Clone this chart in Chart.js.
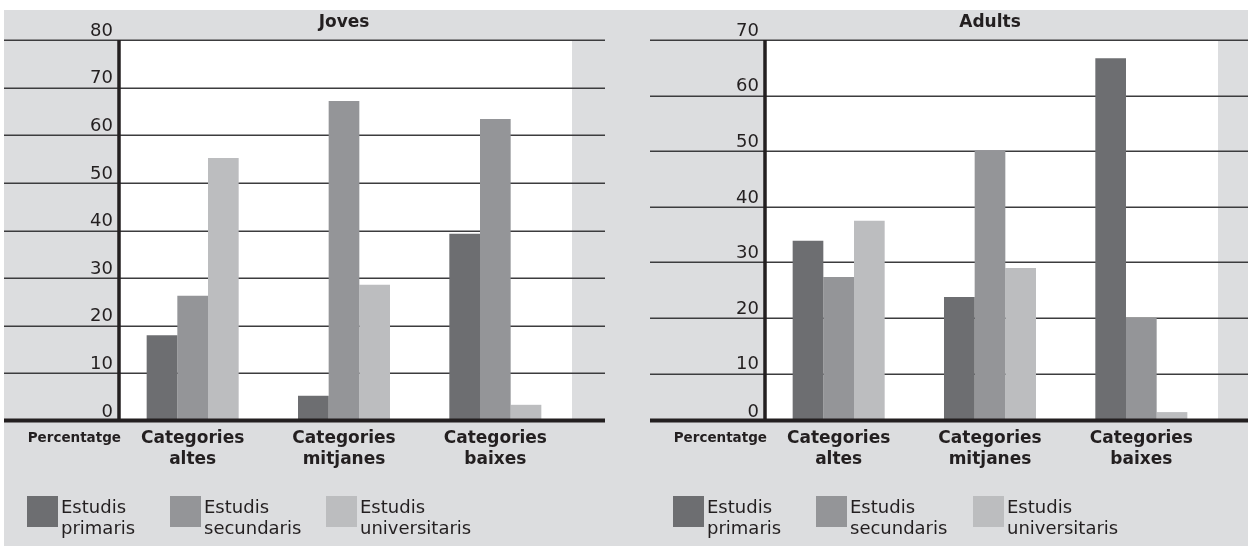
<!DOCTYPE html>
<html>
<head>
<meta charset="utf-8">
<script src="https://cdn.jsdelivr.net/npm/chart.js@4.4.1/dist/chart.umd.min.js"></script>
<style>
  body { margin: 0; background: #fff; width: 1248px; height: 546px; overflow: hidden; position: relative; font-family: "DejaVu Sans", sans-serif; }
  #panel { position: absolute; left: 4px; top: 10px; width: 1244px; height: 536px; background: #dcdddf; }
  canvas { position: absolute; top: 0; }
  .leg { position: absolute; top: 496px; display: flex; align-items: flex-start; color: #231f20; font-size: 18px; line-height: 21px; }
  .leg span.sw { width: 31px; height: 31px; margin-right: 3px; flex: none; }
</style>
</head>
<body>
<div id="panel"></div>
<canvas id="joves" width="620" height="546" style="left:0px"></canvas>
<canvas id="adults" width="628" height="546" style="left:620px"></canvas>
<div id="legends"></div>
<script>
// categories and series
var categories = [["Categories", "altes"], ["Categories", "mitjanes"], ["Categories", "baixes"]];
var seriesNames = [["Estudis", "primaris"], ["Estudis", "secundaris"], ["Estudis", "universitaris"]];
var seriesColors = ['#6d6e71', '#949598', '#bcbdbf'];

// Joves (percentatge)
var jovesPrimaris = [18.0, 5.3, 39.3];
var jovesSecundaris = [26.3, 67.2, 63.4];
var jovesUniversitaris = [55.2, 28.6, 3.4];
var jovesTicks = [0, 10, 20, 30, 40, 50, 60, 70, 80];

// Adults (percentatge)
var adultsPrimaris = [33.9, 23.8, 66.7];
var adultsSecundaris = [27.4, 50.2, 20.0];
var adultsUniversitaris = [37.5, 29.0, 3.1];
var adultsTicks = [0, 10, 20, 30, 40, 50, 60, 70];

var ink = '#231f20';

// white plot area, extended grid lines, thick axes, title and "Percentatge"
var framePlugin = {
    id: 'frame',
    beforeDatasetsDraw: function (chart, args, opts) {
        var ctx = chart.ctx, a = chart.chartArea, y = chart.scales.y;
        ctx.save();
        ctx.fillStyle = '#ffffff';
        ctx.fillRect(a.left + 2, a.top, a.right - a.left + opts.plotExtra - 2, a.bottom - a.top);
        ctx.strokeStyle = '#3c3c3e';
        ctx.lineWidth = 1.4;
        y.ticks.forEach(function (t, i) {
            if (i === 0) return;
            var py = Math.round(y.getPixelForValue(t.value)) + 0.3;
            ctx.beginPath();
            ctx.moveTo(opts.x0, py);
            ctx.lineTo(opts.x1, py);
            ctx.stroke();
        });
        ctx.restore();
    },
    afterDatasetsDraw: function (chart, args, opts) {
        var ctx = chart.ctx, a = chart.chartArea;
        ctx.save();
        ctx.strokeStyle = ink;
        ctx.lineWidth = 3.5;
        ctx.beginPath();
        ctx.moveTo(a.left + 2, a.top);
        ctx.lineTo(a.left + 2, a.bottom);
        ctx.stroke();
        ctx.lineWidth = 4;
        ctx.beginPath();
        ctx.moveTo(opts.x0, a.bottom - 0.5);
        ctx.lineTo(opts.x1, a.bottom - 0.5);
        ctx.stroke();
        ctx.fillStyle = ink;
        ctx.textAlign = 'center';
        ctx.textBaseline = 'middle';
        ctx.font = 'bold 17px "DejaVu Sans"';
        ctx.fillText(opts.title, (a.left + a.right) / 2, 23);
        ctx.textAlign = 'right';
        ctx.font = 'bold 13.5px "DejaVu Sans"';
        ctx.fillText('Percentatge', a.left + 4, 438);
        ctx.restore();
    }
};

function makeChart(id, title, series, tickList, axisMin, yWidth, padRight, x0, x1) {
    var ctx = document.getElementById(id).getContext('2d');
    return new Chart(ctx, {
        type: 'bar',
        data: {
            labels: categories,
            datasets: series.map(function (d, i) {
                return {
                    label: seriesNames[i].join(' '),
                    data: d,
                    backgroundColor: seriesColors[i],
                    borderWidth: 0,
                    barPercentage: 1.0,
                    categoryPercentage: 0.608
                };
            })
        },
        options: {
            responsive: false,
            animation: false,
            devicePixelRatio: 1,
            layout: {
                padding: { top: 40, left: 0, right: padRight, bottom: 0 }
            },
            scales: {
                x: {
                    grid: { display: false, drawTicks: false },
                    border: { display: false },
                    ticks: {
                        color: ink,
                        font: { family: 'DejaVu Sans', size: 17, weight: 'bold', lineHeight: 1.25 },
                        padding: 7,
                        maxRotation: 0,
                        autoSkip: false
                    },
                    afterFit: function (scale) { scale.height = 125; }
                },
                y: {
                    min: axisMin,
                    max: tickList[tickList.length - 1],
                    grid: { display: false, drawTicks: false },
                    border: { display: false },
                    afterBuildTicks: function (scale) {
                        scale.ticks = tickList.map(function (v) { return { value: Math.max(v, axisMin) }; });
                    },
                    afterFit: function (scale) { scale.width = yWidth; },
                    ticks: {
                        color: ink,
                        font: { family: 'DejaVu Sans', size: 18 },
                        padding: 4,
                        labelOffset: -9,
                        callback: function (val, index) { return String(tickList[index]); }
                    }
                }
            },
            plugins: {
                legend: { display: false },
                tooltip: { enabled: false },
                frame: { title: title, x0: x0, x1: x1, plotExtra: 1 }
            }
        },
        plugins: [framePlugin]
    });
}

makeChart('joves', 'Joves', [jovesPrimaris, jovesSecundaris, jovesUniversitaris], jovesTicks, 0, 117, 49, 4, 605);
makeChart('adults', 'Adults', [adultsPrimaris, adultsSecundaris, adultsUniversitaris], adultsTicks, 1.5, 143, 31, 30, 628);

// legends built from series names and colours
var legendLefts = [[27, 170, 326], [673, 816, 973]];
var holder = document.getElementById('legends');
legendLefts.forEach(function (lefts) {
    lefts.forEach(function (x, i) {
        var d = document.createElement('div');
        d.className = 'leg';
        d.style.left = x + 'px';
        var sw = document.createElement('span');
        sw.className = 'sw';
        sw.style.background = seriesColors[i];
        var tx = document.createElement('span');
        tx.innerHTML = seriesNames[i].join('<br>');
        d.appendChild(sw);
        d.appendChild(tx);
        holder.appendChild(d);
    });
});
</script>
</body>
</html>
